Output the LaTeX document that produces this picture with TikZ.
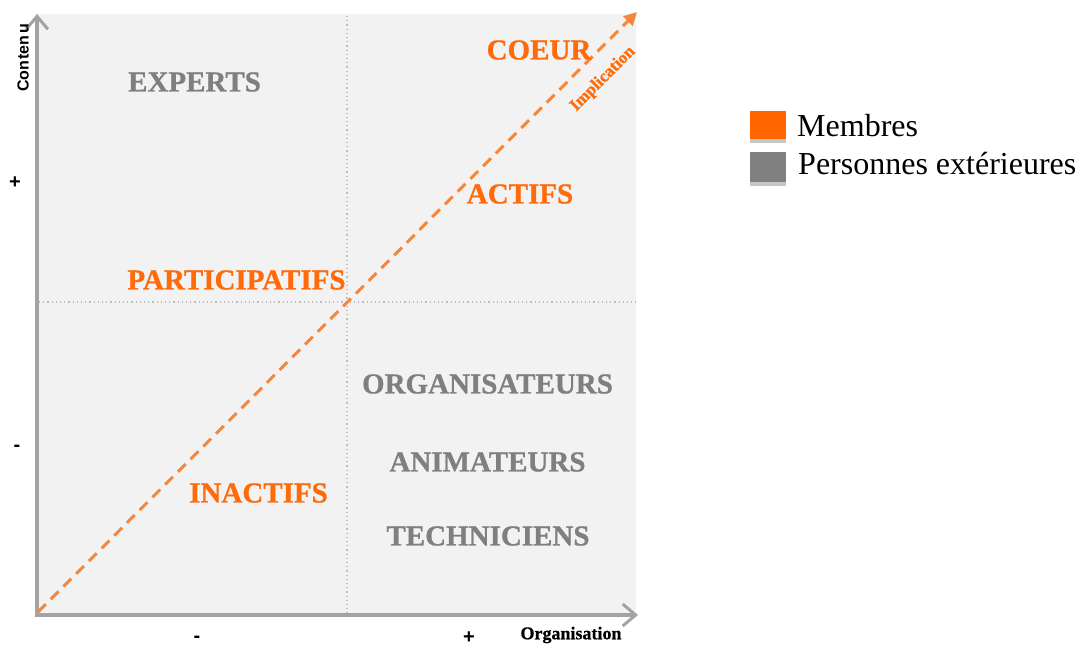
\documentclass[tikz,border=0pt]{standalone}
\usepackage{fontspec}
\setmainfont{Liberation Serif}
\newfontfamily\lsans{Liberation Sans}
\newfontfamily\heavy{Liberation Serif Bold}[FakeBold=0.8]
\usetikzlibrary{arrows.meta,shadows}
\definecolor{panel}{HTML}{F2F2F2}
\definecolor{axisgray}{HTML}{A3A3A3}
\definecolor{dotgray}{HTML}{BDBDBD}
\definecolor{labelorange}{HTML}{FF6A0A}
\definecolor{dashorange}{HTML}{F5873A}
\definecolor{labelgray}{HTML}{7F7F7F}
\definecolor{keyorange}{HTML}{FF6600}
\definecolor{keygray}{HTML}{808080}
\tikzset{
  big/.style={inner sep=0pt, font=\heavy\fontsize{29}{29}\selectfont},
  member/.style={big, text=labelorange},
  outsider/.style={big, text=labelgray},
  axis/.style={draw=axisgray, line width=4pt, -{Straight Barb[length=13pt,width=22pt,line width=3pt]}},
  divider/.style={draw=dotgray, line width=1.2pt, dash pattern=on 1.2pt off 3pt},
  sign/.style={inner sep=0pt, font=\lsans\bfseries\fontsize{20}{20}\selectfont},
  keybox/.style={minimum width=36pt, minimum height=28pt, inner sep=0pt,
    drop shadow={shadow xshift=0pt, shadow yshift=-4pt, opacity=0.45}},
  keytext/.style={inner sep=0pt, anchor=base west, font=\fontsize{32}{32}\selectfont}
}
\begin{document}
\begin{tikzpicture}[x=1pt,y=-1pt]
\useasboundingbox (0,0) rectangle (1078,648);

% quadrant panel
\fill[panel] (37,14) rectangle (636,615);

% dotted quadrant dividers
\coordinate (vtop) at (347,16);
\coordinate (vbot) at (347,613);
\coordinate (hleft) at (39,302);
\coordinate (hright) at (636,302);
\draw[divider] (vtop) -- (vbot);
\draw[divider] (hleft) -- (hright);

% axes
\coordinate (origin) at (37,615);
\coordinate (ytip) at (37,14);
\coordinate (xtip) at (638,615);
\draw[axis] ([yshift=2pt]origin) -- (ytip);
\draw[axis] ([xshift=-2pt]origin) -- (xtip);

% implication diagonal
\coordinate (dstart) at (38,612);
\coordinate (dend) at (637,12);
\draw[dashorange, line width=3pt, dash pattern=on 11pt off 7pt,
  -{Triangle[length=13pt,width=13pt]}] (dstart) -- (dend);
\node[inner sep=0pt, text=labelorange, rotate=45,
  font=\heavy\fontsize{17}{17}\selectfont] (impl) at (603,79) {Implication};

% axis labels
\node[inner sep=0pt, rotate=90, font=\lsans\bfseries\fontsize{16}{16}\selectfont] (ylab) at (23,58) {Con\hspace{1.5pt}ten\hspace{1.5pt}u};
\node[inner sep=0pt, font=\heavy\fontsize{18}{18}\selectfont] (xlab) at (571,635) {Organisation};
\node[sign] (yplus) at (15,183) {+};
\node[sign] (yminus) at (17,448) {-};
\node[sign] (xminus) at (197,639) {-};
\node[sign] (xplus) at (469,638) {+};

% profiles
\node[outsider] (experts) at (194.5,82) {EXPERTS};
\node[member] (coeur) at (539,50) {COEUR};
\node[member] (actifs) at (520,194) {ACTIFS};
\node[member] (particip) at (236.5,280) {PARTICIPATIFS};
\node[outsider] (orga) at (487.5,384) {ORGANISATEURS};
\node[outsider] (anim) at (487.5,462) {ANIMATEURS};
\node[outsider] (techn) at (488,536) {TECHNICIENS};
\node[member] (inactifs) at (258.5,493) {INACTIFS};

% key
\node[keybox, fill=keyorange] (kmem) at (768,125) {};
\node[keybox, fill=keygray, minimum height=30pt] (kext) at (768,167) {};
\node[keytext] (tmem) at (797,136) {Membres};
\node[keytext] (text) at (798,174) {Personnes extérieures};
\end{tikzpicture}
\end{document}
